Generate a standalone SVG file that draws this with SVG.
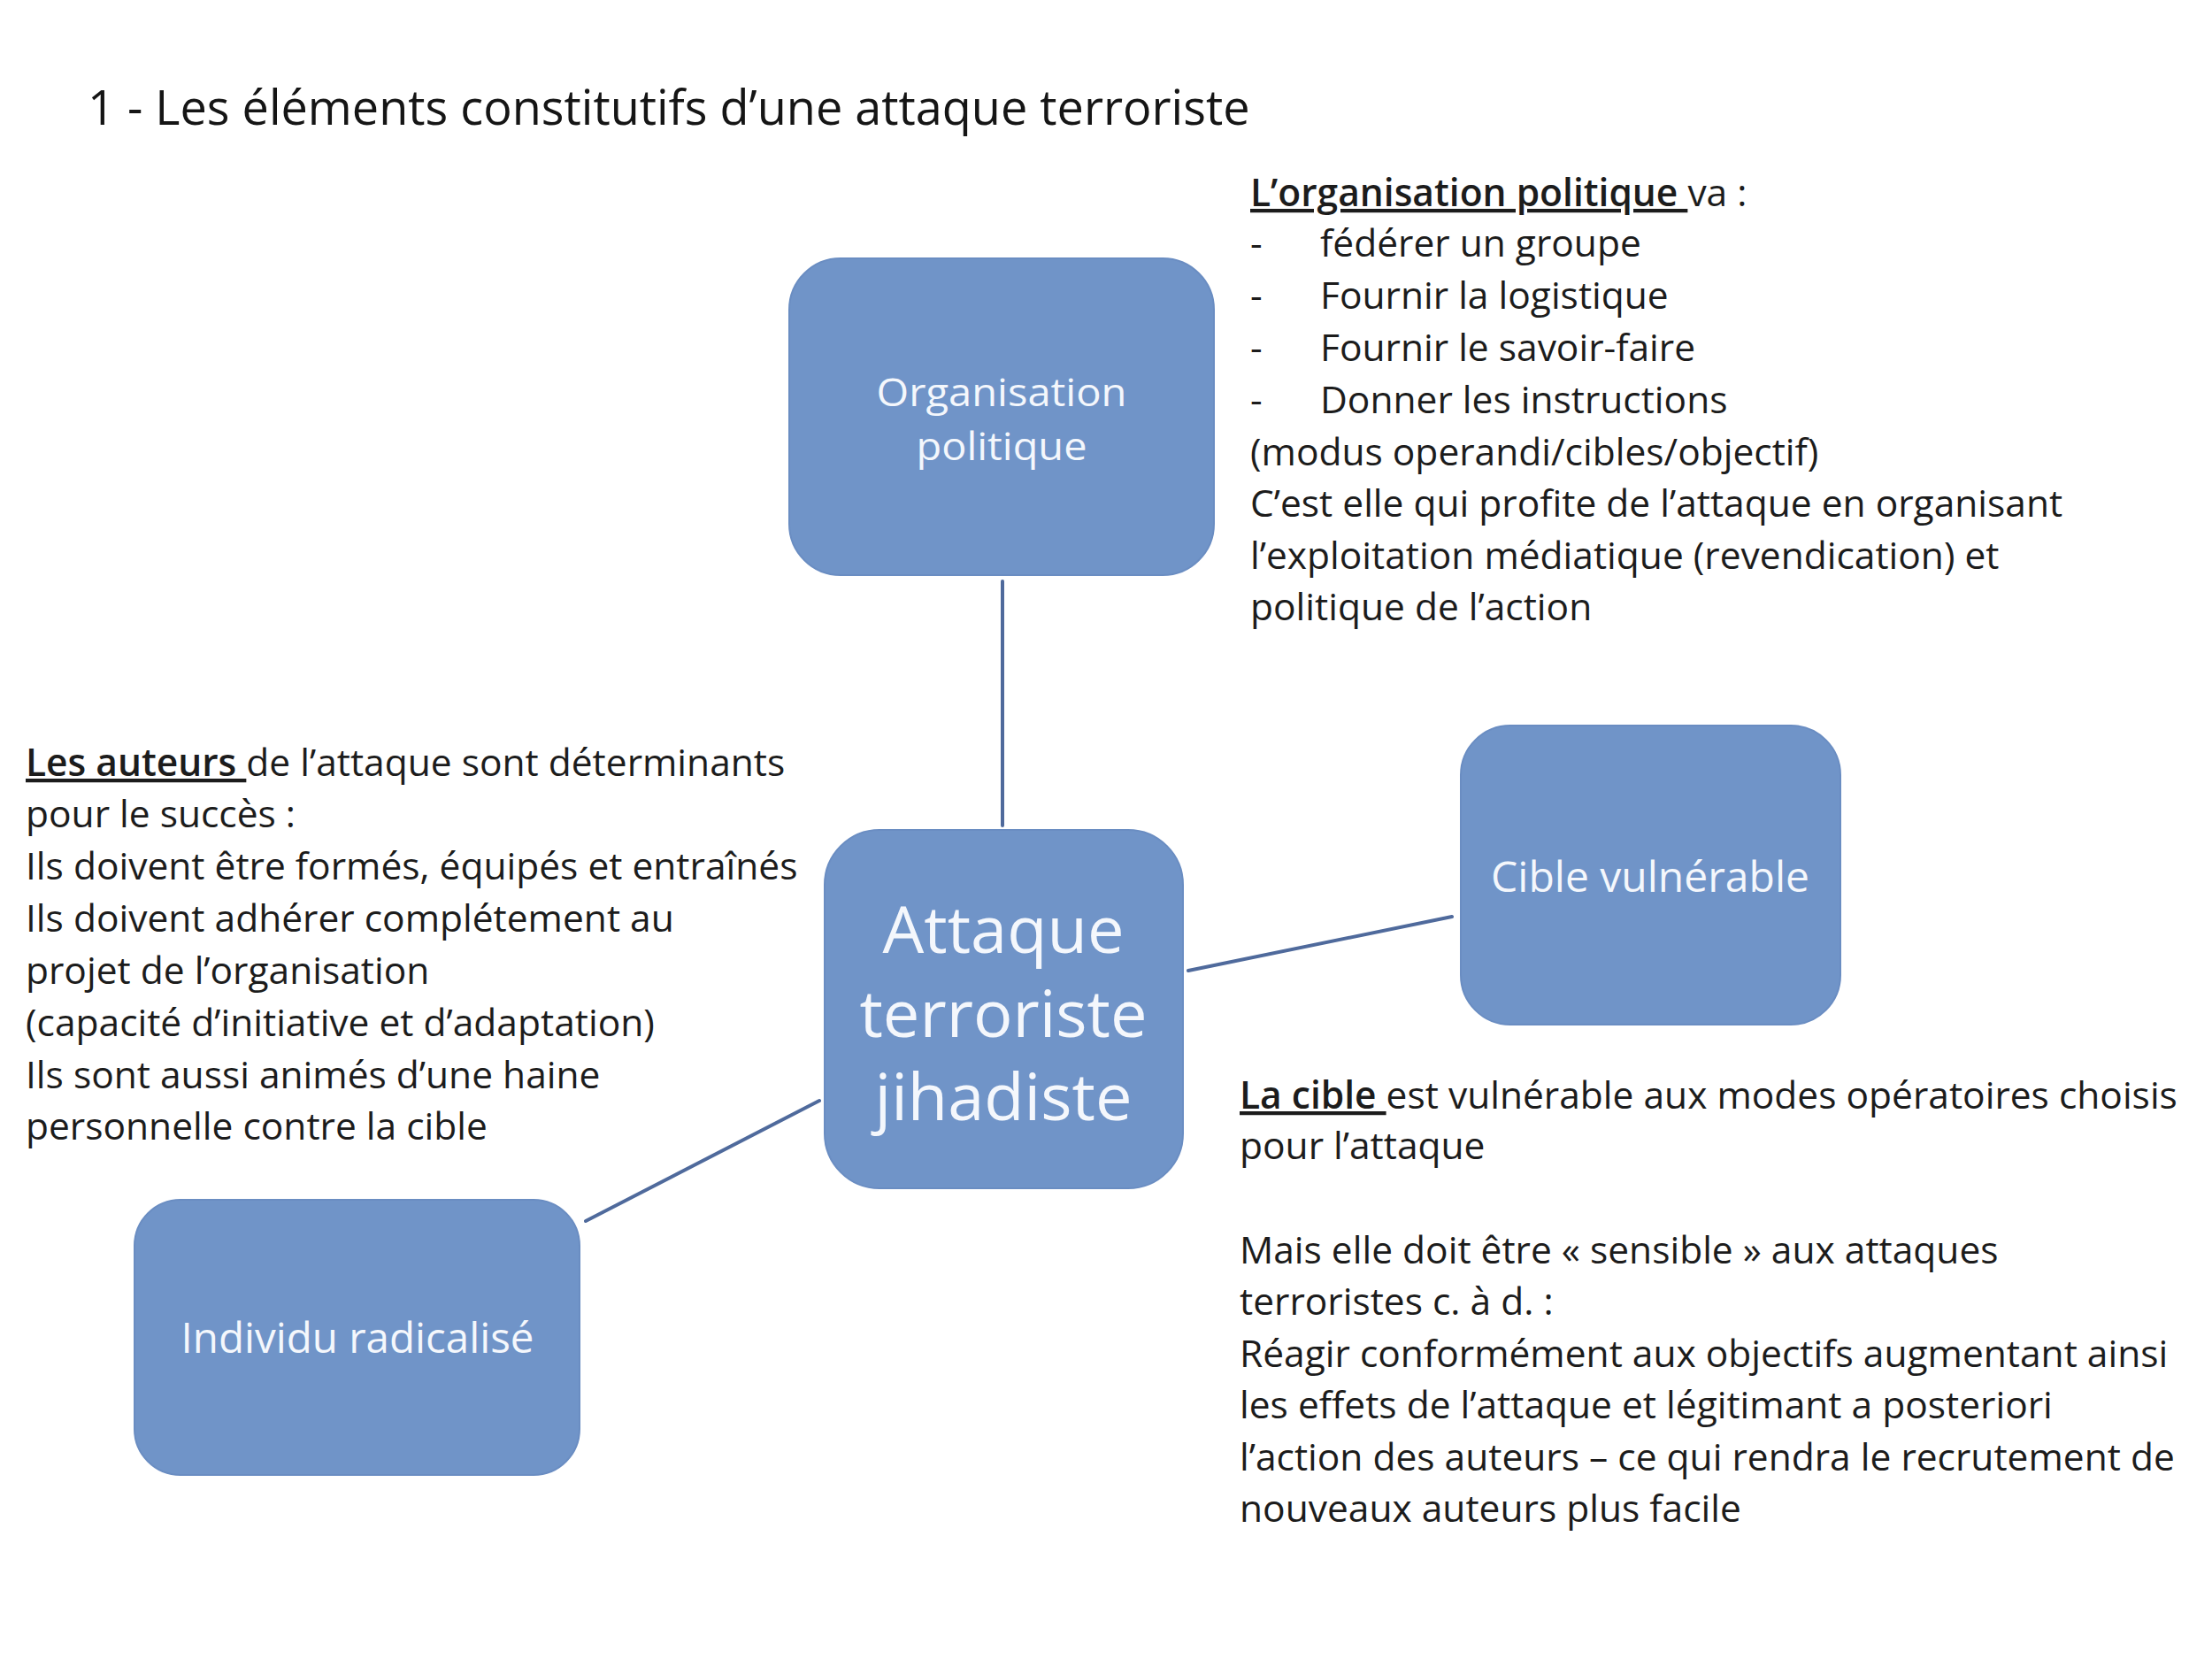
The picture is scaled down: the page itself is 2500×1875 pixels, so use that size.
<svg xmlns="http://www.w3.org/2000/svg" width="2500" height="1875" viewBox="0 0 2500 1875">
<style>
.bg{fill:#ffffff}
.node{fill:#7094c8;stroke:#6a8dc2;stroke-width:2}
.ntext{font-family:"Open Sans","Noto Sans","Liberation Sans",sans-serif;fill:#f4f7fc;text-anchor:middle}
.body{font-family:"Open Sans","Noto Sans","Liberation Sans",sans-serif;font-size:42.5px;fill:#1c1c1c}
.title{font-family:"Open Sans","Noto Sans","Liberation Sans",sans-serif;font-size:54px;fill:#151515}
.hd{font-weight:600;text-decoration:underline}
.conn{stroke:#4f6a9c;stroke-width:4;fill:none;stroke-linecap:round}
</style>
<rect class="bg" x="0" y="0" width="2500" height="1875"/>
<text class="title" x="99" y="141">1 - Les éléments constitutifs d’une attaque terroriste</text>

<g id="connectors">
<line class="conn" x1="1133" y1="657" x2="1133" y2="933"/>
<line class="conn" x1="1343" y1="1097" x2="1641" y2="1036"/>
<line class="conn" x1="926" y1="1244" x2="662" y2="1380"/>
</g>

<g id="node-organisation">
<rect class="node" x="892" y="292" width="480" height="358" rx="58" ry="58"/>
<text class="ntext" font-size="44.5" x="1132" y="459" textLength="283" lengthAdjust="spacingAndGlyphs">Organisation</text>
<text class="ntext" font-size="44.5" x="1132" y="520" textLength="193" lengthAdjust="spacingAndGlyphs">politique</text>
</g>

<g id="node-attaque">
<rect class="node" x="932" y="938" width="405" height="405" rx="62" ry="62"/>
<text class="ntext" font-size="74" x="1134" y="1077">Attaque<tspan x="1134" dy="95">terroriste</tspan><tspan x="1134" dy="94">jihadiste</tspan></text>
</g>

<g id="node-cible">
<rect class="node" x="1651" y="820" width="429" height="338" rx="56" ry="56"/>
<text class="ntext" font-size="48" x="1865" y="1008">Cible vulnérable</text>
</g>

<g id="node-individu">
<rect class="node" x="152" y="1356" width="503" height="311" rx="52" ry="52"/>
<text class="ntext" font-size="47.5" x="404" y="1529">Individu radicalisé</text>
</g>

<g id="text-organisation">
<text class="body" x="1413" y="233"><tspan class="hd">L’organisation politique </tspan>va :</text>
<text class="body" x="1413" y="290">-</text><text class="body" x="1492" y="290">fédérer un groupe</text>
<text class="body" x="1413" y="349">-</text><text class="body" x="1492" y="349">Fournir la logistique</text>
<text class="body" x="1413" y="408">-</text><text class="body" x="1492" y="408">Fournir le savoir-faire</text>
<text class="body" x="1413" y="467">-</text><text class="body" x="1492" y="467">Donner les instructions</text>
<text class="body" x="1413" y="526">(modus operandi/cibles/objectif)</text>
<text class="body" x="1413" y="584">C’est elle qui profite de l’attaque en organisant</text>
<text class="body" x="1413" y="643">l’exploitation médiatique (revendication) et</text>
<text class="body" x="1413" y="701">politique de l’action</text>
</g>

<g id="text-auteurs">
<text class="body" x="29" y="877"><tspan class="hd">Les auteurs </tspan>de l’attaque sont déterminants</text>
<text class="body" x="29" y="935">pour le succès :</text>
<text class="body" x="29" y="994">Ils doivent être formés, équipés et entraînés</text>
<text class="body" x="29" y="1053">Ils doivent adhérer complétement au</text>
<text class="body" x="29" y="1112">projet de l’organisation</text>
<text class="body" x="29" y="1171">(capacité d’initiative et d’adaptation)</text>
<text class="body" x="29" y="1230">Ils sont aussi animés d’une haine</text>
<text class="body" x="29" y="1288">personnelle contre la cible</text>
</g>

<g id="text-cible">
<text class="body" x="1401" y="1253"><tspan class="hd">La cible </tspan>est vulnérable aux modes opératoires choisis</text>
<text class="body" x="1401" y="1310">pour l’attaque</text>
<text class="body" x="1401" y="1428">Mais elle doit être « sensible » aux attaques</text>
<text class="body" x="1401" y="1486">terroristes c. à d. :</text>
<text class="body" x="1401" y="1545">Réagir conformément aux objectifs augmentant ainsi</text>
<text class="body" x="1401" y="1603">les effets de l’attaque et légitimant a posteriori</text>
<text class="body" x="1401" y="1662">l’action des auteurs – ce qui rendra le recrutement de</text>
<text class="body" x="1401" y="1720">nouveaux auteurs plus facile</text>
</g>
</svg>
